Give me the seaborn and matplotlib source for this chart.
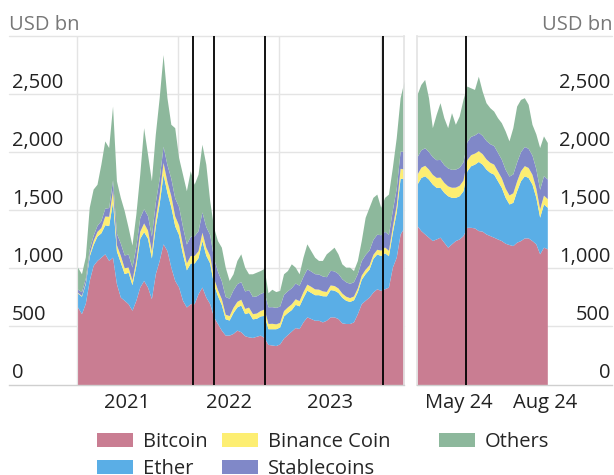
import pandas as pd
import seaborn as sns
import matplotlib.pyplot as plt

sns.set_theme(style='white')
plt.rcParams['font.family'] = ['Open Sans', 'DejaVu Sans']

coins = ['Bitcoin', 'Ether', 'Binance Coin', 'Stablecoins', 'Others']
colors = ['#c97d92', '#5aaee6', '#fdee72', '#8088c8', '#8db89c']

# long panel: fortnightly, Jan 2021 - Mar 2024 (USD bn)
dates_long = pd.date_range('2021-01-04', periods=85, freq='14D')
bitcoin_long = [667, 610, 700, 896, 1025, 1068, 1096, 1125, 1068, 1096,
                868, 753, 725, 696, 639, 725, 839, 896, 839, 739,
                953, 1068, 1211, 1153, 1010, 896, 839, 725, 667, 696,
                696, 782, 839, 753, 696, 582, 525, 468, 425, 425,
                440, 468, 454, 420, 410, 405, 415, 425, 405, 345,
                340, 335, 350, 400, 430, 460, 490, 482, 539, 582,
                568, 553, 553, 539, 553, 582, 582, 568, 531, 525,
                525, 539, 610, 696, 725, 753, 796, 824, 810, 824,
                839, 1010, 1096, 1296, 1353]
ether_long = [120, 150, 170, 210, 180, 210, 210, 250, 300, 480,
              280, 300, 230, 270, 220, 300, 420, 420, 420, 350,
              410, 490, 600, 500, 520, 470, 450, 400, 320, 350,
              350, 310, 400, 360, 350, 280, 240, 220, 140, 130,
              180, 200, 230, 190, 210, 160, 155, 165, 190, 135,
              140, 145, 145, 190, 190, 185, 200, 195, 210, 230,
              225, 220, 220, 225, 210, 235, 230, 225, 220, 200,
              190, 190, 190, 210, 230, 240, 290, 300, 300, 310,
              270, 300, 390, 480, 420]
bnb_long = [6, 7, 10, 20, 35, 40, 45, 75, 80, 100,
            55, 60, 50, 45, 40, 50, 60, 75, 70, 60,
            75, 80, 100, 95, 95, 85, 85, 75, 60, 65,
            65, 60, 72, 68, 65, 55, 52, 50, 40, 38,
            45, 48, 50, 45, 46, 45, 45, 47, 55, 45,
            47, 42, 40, 46, 48, 50, 48, 45, 50, 52,
            52, 50, 48, 42, 38, 40, 40, 38, 36, 35,
            33, 33, 33, 36, 38, 37, 35, 40, 47, 50,
            46, 52, 60, 85, 82]
stable_long = [28, 32, 36, 40, 45, 52, 60, 68, 75, 85,
               98, 105, 110, 112, 112, 115, 118, 122, 125, 128,
               130, 135, 140, 145, 150, 155, 158, 160, 162, 165,
               170, 172, 175, 178, 180, 170, 158, 155, 152, 150,
               150, 152, 152, 150, 150, 148, 148, 147, 147, 144,
               143, 142, 140, 140, 139, 138, 135, 133, 132, 132,
               132, 131, 130, 128, 127, 126, 126, 125, 124, 124,
               123, 123, 123, 124, 126, 127, 128, 130, 132, 135,
               137, 140, 143, 148, 152]
others_long = [189, 154, 184, 359, 397, 354, 486, 579, 517, 636,
               453, 393, 382, 231, 189, 278, 374, 698, 529, 477,
               586, 696, 789, 576, 465, 605, 422, 451, 459, 564,
               443, 487, 582, 538, 291, 267, 264, 289, 253, 153,
               138, 200, 239, 205, 137, 195, 204, 197, 203, 121,
               150, 136, 135, 177, 174, 206, 137, 98, 165, 215,
               176, 142, 117, 134, 197, 170, 204, 169, 128, 126,
               139, 96, 112, 173, 320, 368, 362, 345, 236, 292,
               347, 366, 436, 460, 604]

# short panel: Apr - mid Aug 2024
dates_short = pd.date_range('2024-04-01', '2024-08-18', periods=35)
bitcoin_short = [1368, 1325, 1296, 1268, 1239, 1253, 1268, 1225, 1182, 1211,
                 1239, 1253, 1282, 1353, 1353, 1348, 1325, 1320, 1296, 1282,
                 1268, 1253, 1239, 1216, 1205, 1196, 1225, 1239, 1262, 1262,
                 1239, 1211, 1125, 1182, 1168]
ether_short = [357, 457, 501, 500, 486, 444, 429, 429, 443, 400,
               372, 372, 386, 487, 530, 549, 595, 577, 558, 544,
               543, 501, 458, 395, 349, 372, 443, 515, 535, 520,
               486, 400, 315, 372, 357]
bnb_short = [85, 88, 90, 86, 84, 86, 88, 86, 85, 87,
             88, 90, 92, 95, 96, 95, 93, 90, 88, 87,
             86, 84, 82, 80, 78, 82, 85, 86, 87, 86,
             84, 80, 72, 76, 75]
stable_short = [150, 150, 151, 151, 152, 152, 153, 153, 154, 154,
                155, 155, 156, 156, 157, 157, 158, 158, 159, 160,
                160, 161, 161, 162, 162, 163, 163, 164, 165, 165,
                166, 167, 168, 168, 169]
others_short = [537, 563, 588, 464, 250, 391, 488, 404, 347, 488,
                386, 441, 538, 478, 418, 391, 483, 381, 325, 310,
                297, 298, 314, 330, 303, 398, 481, 450, 420, 379,
                265, 300, 360, 342, 314]

events_long = ['2022-02-24', '2022-05-09', '2022-11-11', '2024-01-10']
events_short = ['2024-05-23']
year_labels = ['2021', '2022', '2023']
short_labels = ['May 24', 'Aug 24']
yticks = [0, 500, 1000, 1500, 2000, 2500]

fs = 14.5
grid_c = '#e4e4e4'
tick_c = '#3a2c30'

fig = plt.figure(figsize=(6.14, 4.75), dpi=100)
ax1 = fig.add_axes([9 / 614, 90.5 / 475, 395 / 614, 348.5 / 475])
ax2 = fig.add_axes([417 / 614, 90.5 / 475, 195 / 614, 348.5 / 475])

ax1.stackplot(dates_long, bitcoin_long, ether_long, bnb_long, stable_long, others_long,
              colors=colors, labels=coins, linewidth=0, zorder=1)
ax2.stackplot(dates_short, bitcoin_short, ether_short, bnb_short, stable_short, others_short,
              colors=colors, labels=coins, linewidth=0, zorder=1)

ax1.set_xlim(pd.Timestamp('2020-05-02'), dates_long[-1])
ax2.set_xlim(pd.Timestamp('2024-04-01'), pd.Timestamp('2024-10-26'))

for ax in (ax1, ax2):
    ax.set_ylim(0, 3000)
    ax.set_yticks([])
    for v in yticks[1:] + [3000]:
        ax.axhline(v, color=grid_c, lw=1, zorder=0, clip_on=False)
    for s in ('top', 'left', 'right'):
        ax.spines[s].set_visible(False)
    ax.spines['bottom'].set_color('#cfcfcf')
    ax.spines['bottom'].set_linewidth(1)
    ax.set_xlabel('')
    ax.set_ylabel('')

ax1.spines['right'].set_visible(True)
ax1.spines['right'].set_color(grid_c)
ax2.spines['left'].set_visible(True)
ax2.spines['left'].set_color(grid_c)

# year gridlines and ticks
years = pd.to_datetime(['2021-01-01', '2022-01-01', '2023-01-01', '2024-01-01'])
quarters = pd.to_datetime([f'{y}-{m:02d}-01' for y in (2021, 2022, 2023) for m in (4, 7, 10)])
for d in years:
    ax1.axvline(d, color=grid_c, lw=1, zorder=0)
ax1.set_xticks(years)
ax1.set_xticks(quarters, minor=True)
ax1.tick_params(axis='x', which='major', direction='in', length=15, width=1.1,
                color=tick_c, labelbottom=False)
ax1.tick_params(axis='x', which='minor', direction='in', length=8, width=1.1,
                color=tick_c, labelbottom=False)
months = pd.to_datetime(['2024-04-01', '2024-05-01', '2024-06-01', '2024-07-01', '2024-08-01'])
ax2.set_xticks(months)
ax2.tick_params(axis='x', which='major', direction='in', length=10, width=1.1,
                color=tick_c, labelbottom=False)

for d in events_long:
    ax1.axvline(pd.Timestamp(d), color='black', lw=1.3, zorder=3)
for d in events_short:
    ax2.axvline(pd.Timestamp(d), color='black', lw=1.3, zorder=3)

# x labels
for y in year_labels:
    ax1.text(pd.Timestamp(f'{y}-07-02'), -0.054, y, transform=ax1.get_xaxis_transform(),
             ha='center', va='center', fontsize=fs, color='#222222')
for lab, d in zip(short_labels, ['2024-05-16', '2024-08-16']):
    ax2.text(pd.Timestamp(d), -0.054, lab, transform=ax2.get_xaxis_transform(),
             ha='center', va='center', fontsize=fs, color='#222222')

# y labels sitting above the gridlines
for v in yticks:
    ax1.annotate(f'{v:,}', (0, v), xycoords=ax1.get_yaxis_transform(),
                 xytext=(2, 4.5), textcoords='offset points',
                 ha='left', va='baseline', fontsize=fs, color='#222222')
    ax2.annotate(f'{v:,}', (1, v), xycoords=ax2.get_yaxis_transform(),
                 xytext=(-1, 4.5), textcoords='offset points',
                 ha='right', va='baseline', fontsize=fs, color='#222222')

fig.text(9 / 614, 1 - 25 / 475, 'USD bn', ha='left', va='center', fontsize=fs, color='#777777')
fig.text(612 / 614, 1 - 25 / 475, 'USD bn', ha='right', va='center', fontsize=fs, color='#777777')

# legend, three columns
handles, labels = ax1.get_legend_handles_labels()
cols = [([0, 1], 97), ([2, 3], 222), ([4], 439)]
leg_kw = dict(loc='upper left', frameon=False, borderpad=0, borderaxespad=0,
              handlelength=36 / 20.1, handleheight=14 / 20.1, handletextpad=0.5,
              labelspacing=0.36, fontsize=fs)
for idx, xpx in cols:
    leg = fig.legend([handles[i] for i in idx], [labels[i] for i in idx],
                     bbox_to_anchor=(xpx / 614, 1 - 432 / 475), **leg_kw)

fig.savefig('out.png', dpi=100)
